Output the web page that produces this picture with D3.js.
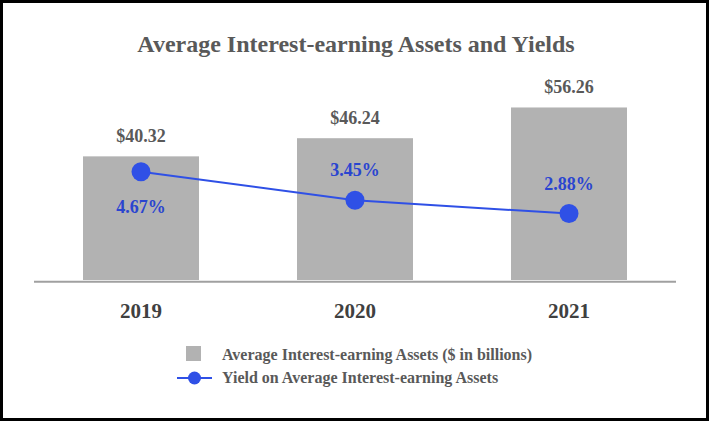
<!DOCTYPE html>
<html>
<head>
<meta charset="utf-8">
<script src="https://cdn.jsdelivr.net/npm/d3@7"></script>
<style>
  html, body { margin: 0; padding: 0; background: #fff; }
  svg { display: block; }
  text { font-family: "Liberation Serif", "Times New Roman", serif; font-weight: bold; }
</style>
</head>
<body>
<svg id="chart" width="710" height="422"></svg>
<script>
const years = ["2019", "2020", "2021"];
const assets = [40.32, 46.24, 56.26];
const yields = [4.67, 3.45, 2.88];
const assetLabels = ["$40.32", "$46.24", "$56.26"];
const yieldLabels = ["4.67%", "3.45%", "2.88%"];
const yieldLabelSide = ["below", "above", "above"];
const titleText = "Average Interest-earning Assets and Yields";
const legendLabels = ["Average Interest-earning Assets ($ in billions)", "Yield on Average Interest-earning Assets"];

const barColor = "#b2b2b2";
const lineColor = "#2f50e6";
const labelBlue = "#2a45d0";
const grayText = "#595959";

const svg = d3.select("#chart");

svg.append("rect")
  .attr("x", 1.5).attr("y", 1.5)
  .attr("width", 706).attr("height", 418)
  .attr("fill", "#fff").attr("stroke", "#000").attr("stroke-width", 3);

svg.append("text")
  .attr("x", 356).attr("y", 52)
  .attr("text-anchor", "middle")
  .attr("font-size", 24)
  .attr("fill", grayText)
  .text(titleText);

const x = d3.scaleBand().domain(years).range([34, 676]).paddingInner(0.458).paddingOuter(0.229);
const y = d3.scaleLinear().domain([0, 60]).range([280, 96]);
const y2 = d3.scaleLinear().domain([0, 7.86]).range([281, 97]);

svg.selectAll(".bar").data(years).join("rect")
  .attr("class", "bar")
  .attr("x", d => x(d))
  .attr("y", (d, i) => y(assets[i]))
  .attr("width", x.bandwidth())
  .attr("height", (d, i) => y(0) - y(assets[i]))
  .attr("fill", barColor);

svg.append("line")
  .attr("x1", 34).attr("x2", 676)
  .attr("y1", 281.7).attr("y2", 281.7)
  .attr("stroke", "#a0a0a0").attr("stroke-width", 2);

svg.selectAll(".blabel").data(years).join("text")
  .attr("class", "blabel")
  .attr("x", d => x(d) + x.bandwidth() / 2)
  .attr("y", (d, i) => y(assets[i]) - 14)
  .attr("text-anchor", "middle")
  .attr("font-size", 18)
  .attr("fill", grayText)
  .text((d, i) => assetLabels[i]);

const line = d3.line()
  .x((d, i) => x(years[i]) + x.bandwidth() / 2)
  .y(d => y2(d));

svg.append("path")
  .datum(yields)
  .attr("d", line)
  .attr("fill", "none")
  .attr("stroke", lineColor)
  .attr("stroke-width", 2);

svg.selectAll(".pt").data(yields).join("circle")
  .attr("class", "pt")
  .attr("cx", (d, i) => x(years[i]) + x.bandwidth() / 2)
  .attr("cy", d => y2(d))
  .attr("r", 9.5)
  .attr("fill", lineColor);

svg.selectAll(".ylabel").data(yields).join("text")
  .attr("class", "ylabel")
  .attr("x", (d, i) => x(years[i]) + x.bandwidth() / 2)
  .attr("y", (d, i) => yieldLabelSide[i] === "below" ? y2(d) + 41 : y2(d) - 24)
  .attr("text-anchor", "middle")
  .attr("font-size", 18)
  .attr("fill", labelBlue)
  .text((d, i) => yieldLabels[i]);

const xAxis = svg.append("g")
  .attr("transform", "translate(0,282)")
  .call(d3.axisBottom(x).tickSize(0).tickPadding(0));
xAxis.select(".domain").remove();
xAxis.selectAll("text")
  .attr("dy", null)
  .attr("y", 36)
  .attr("font-size", 21)
  .attr("font-family", "Liberation Serif, serif")
  .attr("font-weight", "bold")
  .attr("fill", "#404040");

const lg = svg.append("g");
lg.append("rect")
  .attr("x", 186).attr("y", 346).attr("width", 15).attr("height", 15)
  .attr("fill", barColor);
lg.append("text")
  .attr("x", 222).attr("y", 360)
  .attr("font-size", 16).attr("fill", grayText)
  .text(legendLabels[0]);
lg.append("line")
  .attr("x1", 177).attr("x2", 212).attr("y1", 378).attr("y2", 378)
  .attr("stroke", lineColor).attr("stroke-width", 2);
lg.append("circle")
  .attr("cx", 194.5).attr("cy", 378).attr("r", 6.5)
  .attr("fill", lineColor);
lg.append("text")
  .attr("x", 222).attr("y", 383)
  .attr("font-size", 16).attr("fill", grayText)
  .text(legendLabels[1]);
</script>
</body>
</html>
